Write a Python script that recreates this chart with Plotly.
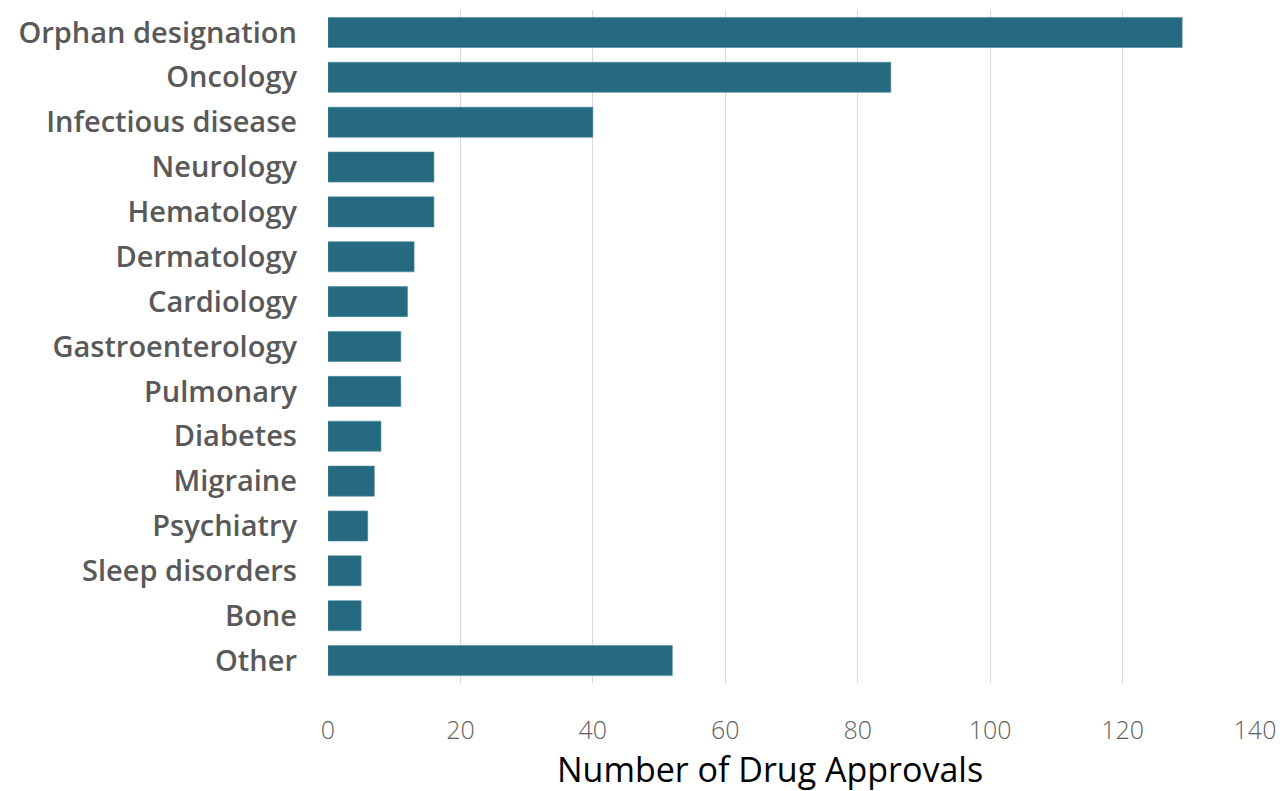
import plotly.graph_objects as go

categories = ["Orphan designation", "Oncology", "Infectious disease", "Neurology", "Hematology",
              "Dermatology", "Cardiology", "Gastroenterology", "Pulmonary", "Diabetes",
              "Migraine", "Psychiatry", "Sleep disorders", "Bone", "Other"]
approvals = [129, 85, 40, 16, 16, 13, 12, 11, 11, 8, 7, 6, 5, 5, 52]
x_ticks = [0, 20, 40, 60, 80, 100, 120, 140]
x_title = "Number of Drug Approvals"

fig = go.Figure(go.Bar(
    x=approvals, y=categories, orientation="h",
    marker=dict(color="#256a80", line=dict(color="#4f8ba0", width=0.6)),
))

fig.update_layout(
    width=1286, height=791,
    margin=dict(l=328, r=25, t=10, b=108),
    plot_bgcolor="white", paper_bgcolor="white",
    bargap=0.33, showlegend=False,
    font=dict(family="Open Sans", color="#595959"),
    annotations=[dict(text=x_title, xref="paper", yref="paper", x=0.477, y=0,
                      yshift=-86, xanchor="center", yanchor="middle", showarrow=False,
                      font=dict(size=34, color="#000000"))],
)
fig.update_xaxes(
    range=[0, 140], tickvals=x_ticks, showgrid=True, gridcolor="#d9d9d9", gridwidth=1,
    zeroline=False, showline=False, ticks="", ticklabelstandoff=30,
    tickfont=dict(size=25, color="#606060", weight=300),
)
fig.update_yaxes(
    autorange="reversed", categoryorder="array", categoryarray=categories,
    showgrid=False, showline=False, ticks="", ticklabelstandoff=30,
    tickfont=dict(size=29, color="#595959", weight=600),
)

fig.write_html("out.html")
